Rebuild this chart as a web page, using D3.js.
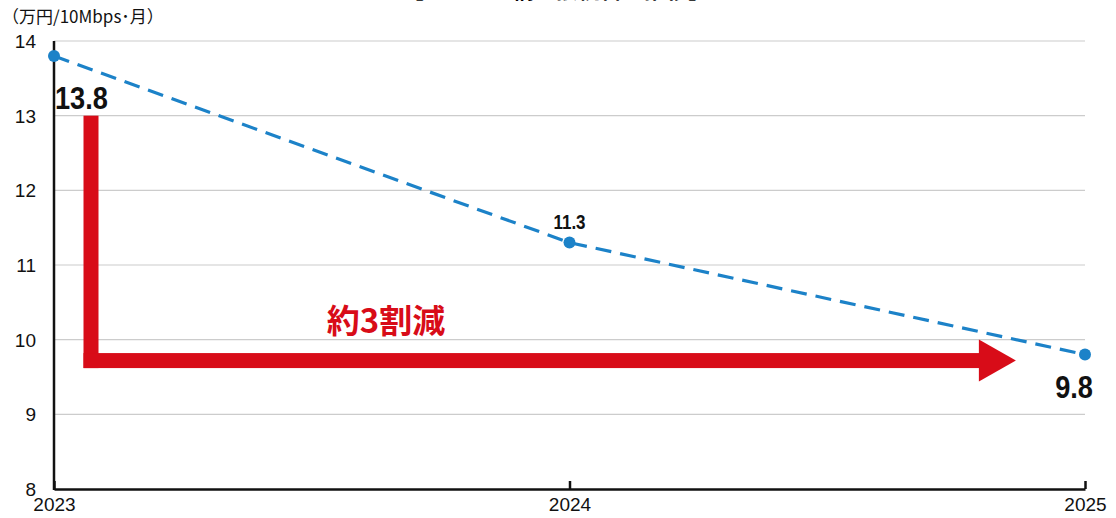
<!DOCTYPE html>
<html>
<head>
<meta charset="utf-8">
<script src="https://cdn.jsdelivr.net/npm/d3@7"></script>
<style>
  body { margin: 0; background: #fff; }
  svg { display: block; font-family: "Liberation Sans", Arial, "Noto Sans CJK JP", sans-serif; }
</style>
</head>
<body>
<div id="chart"></div>
<script>
const years = [2023, 2024, 2025];
const prices = [13.8, 11.3, 9.8];
const labelSizes = [32, 20, 32];
const yTicks = [8, 9, 10, 11, 12, 13, 14];
const titleText = '【モバイル網の接続料の推移】';
const unitText = '（万円/10Mbps･月）';
const noteText = '約3割減';

const width = 1116, height = 518;
const margin = { top: 41, right: 31, bottom: 29, left: 54 };

const svg = d3.select('#chart')
  .append('svg')
  .attr('width', width)
  .attr('height', height);

const x = d3.scaleLinear()
  .domain([2023, 2025])
  .range([margin.left, width - margin.right]);

const y = d3.scaleLinear()
  .domain([8, 14])
  .range([height - margin.bottom, margin.top]);

// title, mostly cut off at the top
svg.append('text')
  .attr('x', 556)
  .attr('y', -2)
  .attr('text-anchor', 'middle')
  .attr('font-size', 22)
  .attr('font-weight', 'bold')
  .attr('font-family', '"Noto Sans CJK JP", sans-serif')
  .text(titleText);

// grid
svg.append('g')
  .selectAll('line')
  .data(yTicks.filter(d => d > 8))
  .enter()
  .append('line')
  .attr('x1', x(2023))
  .attr('x2', x(2025))
  .attr('y1', d => y(d))
  .attr('y2', d => y(d))
  .attr('stroke', '#cccccc')
  .attr('stroke-width', 1.2);

// y labels
svg.append('g')
  .selectAll('text')
  .data(yTicks)
  .enter()
  .append('text')
  .attr('x', 36)
  .attr('y', d => y(d) + 7)
  .attr('text-anchor', 'end')
  .attr('font-size', 19)
  .attr('fill', '#111')
  .text(d => d);

svg.append('text')
  .attr('x', 2)
  .attr('y', 23)
  .attr('font-size', 17)
  .attr('fill', '#111')
  .attr('font-family', '"Noto Sans CJK JP", sans-serif')
  .text(unitText);

// x axis
const axisX = d3.axisBottom(x)
  .tickValues(years)
  .tickFormat(d3.format('d'))
  .tickSize(-8)
  .tickSizeOuter(0)
  .tickPadding(9);

const gx = svg.append('g')
  .attr('transform', `translate(0, ${y(8)})`)
  .call(axisX);
gx.select('.domain').attr('stroke', '#111').attr('stroke-width', 2.5);
gx.selectAll('.tick line').attr('stroke', '#111').attr('stroke-width', 2.5);
gx.selectAll('.tick text')
  .attr('font-size', 19)
  .attr('font-family', '"Liberation Sans", Arial, sans-serif')
  .attr('fill', '#111');

// y axis line
svg.append('line')
  .attr('x1', x(2023))
  .attr('x2', x(2023))
  .attr('y1', y(14))
  .attr('y2', y(8) + 1)
  .attr('stroke', '#111')
  .attr('stroke-width', 2.5);

// red arrow
const arrowX = x(2023) + 37;
const arrowY = y(9.72);
const bar = 15;
const red = '#d80c18';
svg.append('rect')
  .attr('x', arrowX - bar / 2)
  .attr('y', y(13))
  .attr('width', bar)
  .attr('height', arrowY + bar / 2 - y(13))
  .attr('fill', red);
svg.append('rect')
  .attr('x', arrowX - bar / 2)
  .attr('y', arrowY - bar / 2)
  .attr('width', x(2024.8) - (arrowX - bar / 2))
  .attr('height', bar)
  .attr('fill', red);
const hx = x(2024.8) - 3;
svg.append('path')
  .attr('d', `M${hx},${arrowY - 21} L${x(2024.8) + 34},${arrowY} L${hx},${arrowY + 21} Z`)
  .attr('fill', red);

svg.append('text')
  .attr('x', 386)
  .attr('y', 333)
  .attr('text-anchor', 'middle')
  .attr('font-size', 33)
  .attr('font-weight', 'bold')
  .attr('fill', red)
  .attr('font-family', '"Noto Sans CJK JP", sans-serif')
  .text(noteText);

// line
const data = years.map((yr, i) => ({ year: yr, value: prices[i], size: labelSizes[i] }));

svg.append('path')
  .datum(data)
  .attr('fill', 'none')
  .attr('stroke', '#1c82c8')
  .attr('stroke-width', 3.2)
  .attr('stroke-dasharray', '16 9')
  .attr('d', d3.line().x(d => x(d.year)).y(d => y(d.value)));

svg.selectAll('circle.pt')
  .data(data)
  .enter()
  .append('circle')
  .attr('class', 'pt')
  .attr('cx', d => x(d.year))
  .attr('cy', d => y(d.value))
  .attr('r', 6)
  .attr('fill', '#1c82c8');

// value labels (condensed bold)
const labelPos = [
  { dx: 1, dy: 53, anchor: 'start' },
  { dx: 0, dy: -14, anchor: 'middle' },
  { dx: 8, dy: 43, anchor: 'end' }
];
svg.selectAll('text.val')
  .data(data)
  .enter()
  .append('text')
  .attr('class', 'val')
  .attr('transform', (d, i) => `translate(${x(d.year) + labelPos[i].dx}, ${y(d.value) + labelPos[i].dy}) scale(0.85, 1)`)
  .attr('text-anchor', (d, i) => labelPos[i].anchor)
  .attr('font-size', d => d.size)
  .attr('font-weight', 'bold')
  .attr('fill', '#111')
  .text(d => d.value.toFixed(1));
</script>
</body>
</html>
